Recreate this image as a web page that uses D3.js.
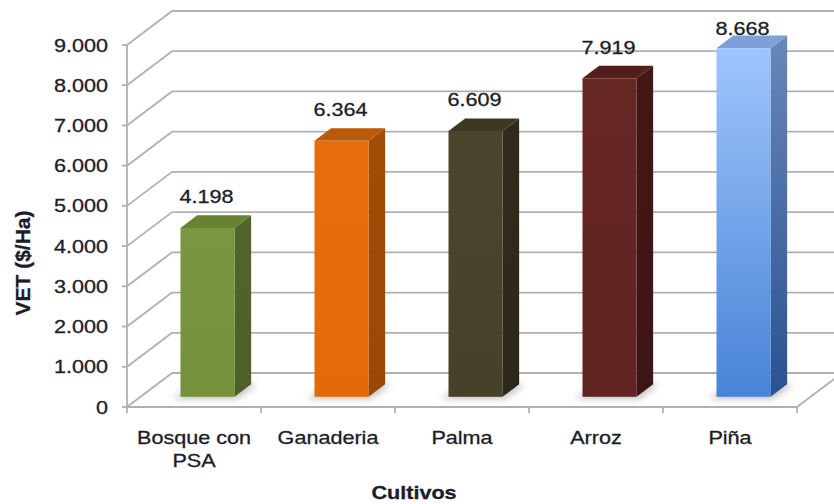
<!DOCTYPE html>
<html>
<head>
<meta charset="utf-8">
<script src="https://cdn.jsdelivr.net/npm/d3@7"></script>
<style>
  body { margin: 0; background: #fff; }
  text { font-family: "Liberation Sans", Arial, sans-serif; fill: #1c1c2a; stroke: #1c1c2a; stroke-width: 0.3; }
</style>
</head>
<body>
<svg id="chart" width="834" height="504"></svg>
<script>
// Valor Económico de la Tierra por cultivo
const categories = ["Bosque con PSA", "Ganaderia", "Palma", "Arroz", "Piña"];
const values = [4198, 6364, 6609, 7919, 8668];
const yTicks = [0, 1000, 2000, 3000, 4000, 5000, 6000, 7000, 8000, 9000];
const yTitle = "VET ($/Ha)";
const xTitle = "Cultivos";

// bar face colours (front gradient top/bottom, side gradient top/bottom, top face)
const frontTop    = ["#7a9640", "#e66e0c", "#4c452d", "#662725", "#9fc5fd"];
const frontBottom = ["#75913a", "#e26a08", "#48412a", "#612422", "#4883d6"];
const sideTop     = ["#516429", "#a24d07", "#312c1c", "#431817", "#6887ba"];
const sideBottom  = ["#4d6026", "#984806", "#2c2819", "#3d1514", "#2a5291"];
const topFace     = ["#68832f", "#bb5908", "#3d3724", "#541e1d", "#7fa0d6"];

const svg = d3.select("#chart");
const W = 834, H = 504;
svg.append("rect").attr("width", W).attr("height", H).attr("fill", "#fff");

// front plane of the 3-D box
const x0 = 127, x1 = 797;
const x = d3.scaleBand().domain(categories).range([x0, x1]);
const y = d3.scaleLinear().domain([0, 9000]).range([407, 45]);

// depth vector of the box (oblique projection)
const DX = 45, DY = -34;
const P = (px, py, t) => [px + t * DX, py + t * DY];
const T1 = 0.30, T2 = 0.67;     // bar front / back depth
const faceW = 54;               // bar front face width
const SX = 1.2;                 // horizontal text stretch

const fmt = d3.formatLocale({ decimal: ",", thousands: ".", grouping: [3], currency: ["$", ""] }).format(",d");

const defs = svg.append("defs");
defs.append("filter").attr("id", "shadow").attr("x", "-50%").attr("y", "-50%").attr("width", "200%").attr("height", "200%")
  .append("feGaussianBlur").attr("stdDeviation", 3.5);

const gridColor = "#b0b0b0";
const gAxes = svg.append("g").attr("fill", "none").attr("stroke", gridColor).attr("stroke-width", 1.8);

// back wall gridlines + left wall diagonals
yTicks.forEach(v => {
  const yy = y(v);
  const b = P(x0, yy, 1);
  gAxes.append("line").attr("x1", b[0]).attr("y1", b[1]).attr("x2", x1 + DX).attr("y2", b[1]);
  gAxes.append("line").attr("x1", x0).attr("y1", yy).attr("x2", b[0]).attr("y2", b[1]);
});

// floor front edge and right edge
const fr = P(x1, y(0), 1);
gAxes.append("line").attr("x1", x0).attr("y1", y(0)).attr("x2", x1).attr("y2", y(0));
gAxes.append("line").attr("x1", x1).attr("y1", y(0)).attr("x2", fr[0]).attr("y2", fr[1]);

// vertical axis line and ticks
gAxes.append("line").attr("x1", x0).attr("y1", y(9000)).attr("x2", x0).attr("y2", y(0));
yTicks.forEach(v => {
  gAxes.append("line").attr("x1", x0 - 5).attr("y1", y(v)).attr("x2", x0).attr("y2", y(v));
});
// category boundary ticks
const bounds = categories.map(c => x(c)).concat([x1]);
bounds.forEach(bx => {
  gAxes.append("line").attr("x1", bx).attr("y1", y(0)).attr("x2", bx).attr("y2", y(0) + 6);
});

// bars
const gBars = svg.append("g");
categories.forEach((c, i) => {
  const cx = x(c) + x.bandwidth() / 2 + 13.5;
  const v = values[i];
  const l = cx - faceW / 2 - T1 * DX, r = cx + faceW / 2 - T1 * DX;
  const yb = y(0), yt = y(v);
  // projected corners
  const fbl = P(l, yb, T1), fbr = P(r, yb, T1), ftl = P(l, yt, T1), ftr = P(r, yt, T1);
  const bbr = P(r, yb, T2), btl = P(l, yt, T2), btr = P(r, yt, T2), bbl = P(l, yb, T2);

  // soft floor shadow
  gBars.append("polygon")
    .attr("points", [[fbl[0] - 8, fbl[1] + 2], [fbr[0] + 2, fbr[1] + 2], [bbr[0] + 6, bbr[1]], [bbl[0], bbl[1]]].map(p => p.join(",")).join(" "))
    .attr("fill", "#8a8a8a").attr("opacity", 0.55).attr("filter", "url(#shadow)");

  const fg = defs.append("linearGradient").attr("id", "f" + i).attr("x1", 0).attr("y1", 0).attr("x2", 0).attr("y2", 1);
  fg.append("stop").attr("offset", 0).attr("stop-color", frontTop[i]);
  fg.append("stop").attr("offset", 1).attr("stop-color", frontBottom[i]);
  const sg = defs.append("linearGradient").attr("id", "s" + i).attr("x1", 0).attr("y1", 0).attr("x2", 0).attr("y2", 1);
  sg.append("stop").attr("offset", 0).attr("stop-color", sideTop[i]);
  sg.append("stop").attr("offset", 1).attr("stop-color", sideBottom[i]);

  // side face
  gBars.append("polygon").attr("points", [fbr, ftr, btr, bbr].map(p => p.join(",")).join(" "))
    .attr("fill", `url(#s${i})`);
  // top face
  gBars.append("polygon").attr("points", [ftl, ftr, btr, btl].map(p => p.join(",")).join(" "))
    .attr("fill", topFace[i]);
  // front face
  gBars.append("rect").attr("x", ftl[0]).attr("y", ftl[1]).attr("width", fbr[0] - fbl[0]).attr("height", fbl[1] - ftl[1])
    .attr("fill", `url(#f${i})`);

  // value label
  const ly = Math.max(28, ftl[1] - 31);
  const lx = (ftl[0] + ftr[0]) / 2 - 1;
  svg.append("text").attr("transform", `translate(${lx},${ly + 6.5}) scale(${SX},1)`)
    .attr("text-anchor", "middle").attr("font-size", 18).text(fmt(v));
});

// y tick labels
yTicks.forEach(v => {
  svg.append("text").attr("transform", `translate(108,${y(v) + 6.5}) scale(${SX},1)`)
    .attr("text-anchor", "end").attr("font-size", 18).text(fmt(v));
});

// category labels, wrapped to the band width
categories.forEach(c => {
  const cx = x(c) + x.bandwidth() / 2;
  const t = svg.append("text").attr("transform", `translate(${cx},0) scale(${SX},1)`)
    .attr("text-anchor", "middle").attr("font-size", 18);
  const words = c.split(" ");
  const lines = [];
  let cur = [];
  const probe = svg.append("text").attr("font-size", 18);
  words.forEach(w => {
    const test = cur.concat([w]).join(" ");
    probe.text(test);
    if (cur.length && probe.node().getComputedTextLength() * SX > x.bandwidth() - 6) {
      lines.push(cur.join(" "));
      cur = [w];
    } else cur.push(w);
  });
  lines.push(cur.join(" "));
  probe.remove();
  lines.forEach((ln, k) => {
    t.append("tspan").attr("x", 0).attr("y", 444 + k * 23).text(ln);
  });
});

// axis titles
svg.append("text").attr("transform", `translate(${(x0 + x1) / 2 - 48},499) scale(${SX},1)`)
  .attr("text-anchor", "middle").attr("font-size", 18).attr("font-weight", "bold").text(xTitle);
svg.append("text").attr("transform", `translate(30,263) rotate(-90)`)
  .attr("text-anchor", "middle").attr("font-size", 21).attr("font-weight", "bold").text(yTitle);
</script>
</body>
</html>
